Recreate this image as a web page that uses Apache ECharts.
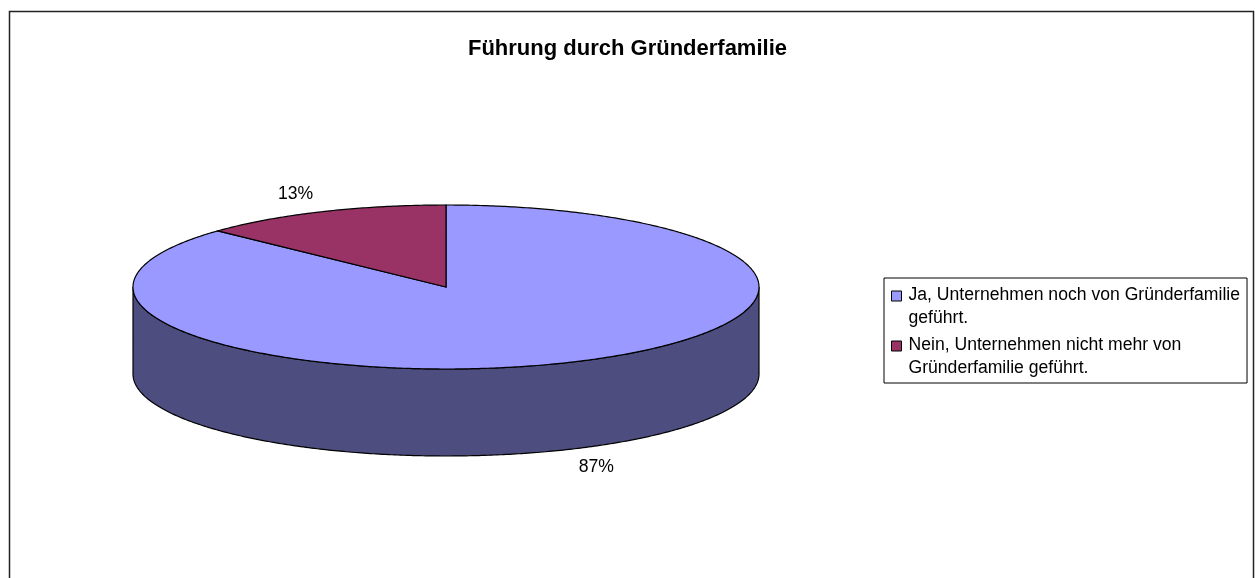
<!DOCTYPE html>
<html>
<head>
<meta charset="utf-8">
<script src="https://cdn.jsdelivr.net/npm/echarts@6/dist/echarts.min.js"></script>
<style>
    html, body { margin: 0; padding: 0; background: #fff; }
    #chart { width: 1255px; height: 578px; }
</style>
</head>
<body>
<div id="chart"></div>
<script>
const categories = ['Ja, Unternehmen noch von Gründerfamilie geführt.', 'Nein, Unternehmen nicht mehr von Gründerfamilie geführt.'];
const legendLines = ['Ja, Unternehmen noch von Gründerfamilie\ngeführt.', 'Nein, Unternehmen nicht mehr von\nGründerfamilie geführt.'];
const values = [87, 13];
const topColors = ['#9999ff', '#993366'];
const sideColors = ['#4d4d7f', '#4d1a33'];

const total = values.reduce((a, b) => a + b, 0);
// 3D pie geometry in px
const cx = 446, cy = 287, rx = 313, ry = 82, depth = 87;
const font = 'Liberation Sans, Arial, sans-serif';

function pt(t, dy) {
    return [cx + rx * Math.sin(t), cy - ry * Math.cos(t) + (dy || 0)];
}
function arc(t0, t1, dy) {
    const n = Math.max(2, Math.ceil((t1 - t0) / 0.01));
    const out = [];
    for (let k = 0; k <= n; k++) out.push(pt(t0 + (t1 - t0) * k / n, dy));
    return out;
}

// slices start at 12 o'clock and run clockwise, like Excel
function renderSlice(params, api) {
    const i = params.seriesIndex;
    let before = 0;
    for (let k = 0; k < i; k++) before += values[k];
    const t0 = before / total * Math.PI * 2;
    const t1 = (before + values[i]) / total * Math.PI * 2;
    const children = [];
    const a = Math.max(t0, Math.PI / 2), b = Math.min(t1, Math.PI * 1.5);
    if (b > a) {
        const side = arc(a, b, 0).concat(arc(a, b, depth).reverse());
        children.push({
            type: 'polygon', z2: 1,
            shape: { points: side },
            style: { fill: sideColors[i], stroke: '#000', lineWidth: 1.2 }
        });
    }
    children.push({
        type: 'polygon', z2: 10,
        shape: { points: [[cx, cy]].concat(arc(t0, t1, 0)) },
        style: { fill: api.visual('color'), stroke: '#000', lineWidth: 1.2 }
    });
    const tm = (t0 + t1) / 2;
    const front = Math.cos(tm) < 0;
    children.push({
        type: 'text', z2: 20,
        style: {
            x: cx + rx * 1.21 * Math.sin(tm),
            y: cy - ry * 1.24 * Math.cos(tm) + (front ? depth : 0),
            text: Math.round(values[i] / total * 100) + '%',
            align: 'center', verticalAlign: 'middle',
            fontSize: 17.6, fontFamily: font, fill: '#000'
        }
    });
    return { type: 'group', children: children };
}

const chart = echarts.init(document.getElementById('chart'));
chart.setOption({
    animation: false,
    backgroundColor: '#fff',
    title: {
        text: 'Führung durch Gründerfamilie',
        left: 'center',
        top: 33,
        textStyle: { fontSize: 22, fontWeight: 'bold', fontFamily: font, color: '#000' }
    },
    graphic: [{
        type: 'rect', silent: true,
        shape: { x: 9.5, y: 11.5, width: 1244, height: 600 },
        style: { fill: 'none', stroke: '#222', lineWidth: 1.5 }
    }],
    legend: {
        orient: 'vertical',
        left: 884,
        top: 278,
        padding: [6, 7, 3, 7],
        itemGap: 4,
        itemWidth: 12,
        itemHeight: 32,
        // square sits at the top of a tall icon box so it lines up with the first text line
        icon: 'path://M0,0L10,0L10,10L0,10ZM12,32',
        borderColor: '#000',
        borderWidth: 1,
        borderRadius: 0,
        itemStyle: { borderColor: '#000', borderWidth: 1 },
        textStyle: { fontSize: 17.6, fontFamily: font, color: '#000', lineHeight: 23 },
        data: categories,
        formatter: name => legendLines[categories.indexOf(name)]
    },
    series: categories.map((name, i) => ({
        type: 'custom',
        name: name,
        coordinateSystem: 'none',
        itemStyle: { color: topColors[i] },
        renderItem: renderSlice,
        data: [values[i]]
    }))
});
</script>
</body>
</html>
